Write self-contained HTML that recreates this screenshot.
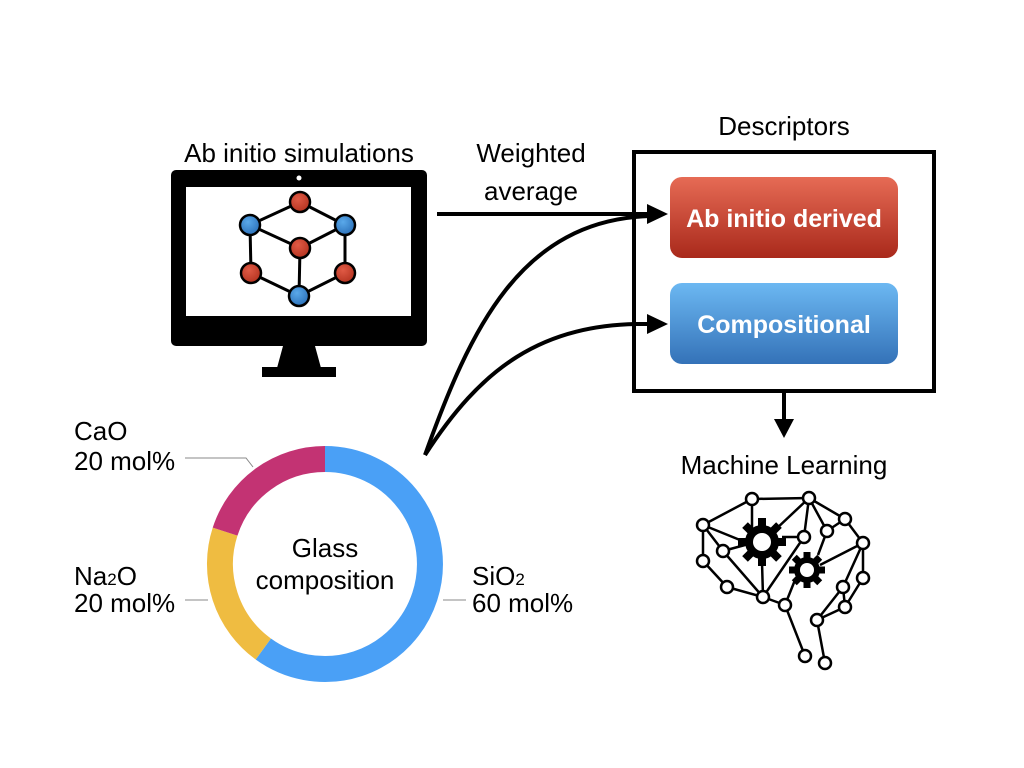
<!DOCTYPE html>
<html><head><meta charset="utf-8"><style>
body{margin:0;width:1024px;height:768px;background:#fff;overflow:hidden}
svg{display:block}
text{font-family:"Liberation Sans",sans-serif;fill:#000}
</style></head><body>
<svg width="1024" height="768" viewBox="0 0 1024 768">
<defs>
<linearGradient id="gr" x1="0" y1="0" x2="0" y2="1"><stop offset="0" stop-color="#e66b55"/><stop offset="1" stop-color="#a9291b"/></linearGradient>
<linearGradient id="gb" x1="0" y1="0" x2="0" y2="1"><stop offset="0" stop-color="#6cb8f2"/><stop offset="1" stop-color="#3472b8"/></linearGradient>
<radialGradient id="rn" cx="0.4" cy="0.35" r="0.7"><stop offset="0" stop-color="#e05a45"/><stop offset="1" stop-color="#b3321f"/></radialGradient>
<radialGradient id="bn" cx="0.4" cy="0.35" r="0.7"><stop offset="0" stop-color="#5aa9ea"/><stop offset="1" stop-color="#2a6fb8"/></radialGradient>
</defs>
<text x="299" y="162" font-size="26" text-anchor="middle">Ab initio simulations</text>
<!-- monitor -->
<rect x="171" y="170" width="256" height="176" rx="5" fill="#000"/>
<rect x="186" y="187" width="225" height="129" fill="#fff"/>
<circle cx="299" cy="178" r="2.5" fill="#fff"/>
<polygon points="283,346 315,346 321,368 277,368" fill="#000"/>
<rect x="262" y="367" width="74" height="10" fill="#000"/>
<g stroke="#000" stroke-width="3">
<line x1="300" y1="202" x2="250" y2="225"/><line x1="300" y1="202" x2="345" y2="225"/>
<line x1="250" y1="225" x2="300" y2="248"/><line x1="345" y1="225" x2="300" y2="248"/>
<line x1="250" y1="225" x2="251" y2="273"/><line x1="345" y1="225" x2="345" y2="273"/>
<line x1="300" y1="248" x2="299" y2="296"/><line x1="251" y1="273" x2="299" y2="296"/><line x1="345" y1="273" x2="299" y2="296"/>
</g>
<g stroke="#000" stroke-width="2.5">
<circle cx="300" cy="202" r="10" fill="url(#rn)"/><circle cx="250" cy="225" r="10" fill="url(#bn)"/>
<circle cx="345" cy="225" r="10" fill="url(#bn)"/><circle cx="300" cy="248" r="10" fill="url(#rn)"/>
<circle cx="251" cy="273" r="10" fill="url(#rn)"/><circle cx="345" cy="273" r="10" fill="url(#rn)"/>
<circle cx="299" cy="296" r="10" fill="url(#bn)"/>
</g>
<!-- weighted avg -->
<text x="531" y="162" font-size="26" text-anchor="middle">Weighted</text>
<text x="531" y="200" font-size="26" text-anchor="middle">average</text>
<line x1="437" y1="214" x2="650" y2="214" stroke="#000" stroke-width="4"/>
<path d="M425,455 C470,330 520,220 650,216" fill="none" stroke="#000" stroke-width="4"/>
<path d="M425,455 C480,370 540,322 650,324" fill="none" stroke="#000" stroke-width="4"/>
<polygon points="647,204 668,214 647,224" fill="#000"/>
<polygon points="647,314 668,324 647,334" fill="#000"/>
<!-- descriptors -->
<text x="784" y="135" font-size="26" text-anchor="middle">Descriptors</text>
<rect x="634" y="152" width="300" height="239" fill="none" stroke="#000" stroke-width="4"/>
<rect x="670" y="177" width="228" height="81" rx="12" fill="url(#gr)"/>
<text x="784" y="227" font-size="25" font-weight="bold" text-anchor="middle" style="fill:#fff">Ab initio derived</text>
<rect x="670" y="283" width="228" height="81" rx="12" fill="url(#gb)"/>
<text x="784" y="333" font-size="25" font-weight="bold" text-anchor="middle" style="fill:#fff">Compositional</text>
<line x1="784" y1="391" x2="784" y2="422" stroke="#000" stroke-width="4"/>
<polygon points="774,419 794,419 784,438" fill="#000"/>
<text x="784" y="474" font-size="26" text-anchor="middle">Machine Learning</text>
<!-- brain -->
<g stroke="#000" stroke-width="2.5" fill="none">
<path d="M752,499 L809,498 M752,499 L703,525 M752,499 L752,530 M809,498 L804,537 M809,498 L845,519 M809,498 L827,531 M809,498 L775,530 M703,525 L703,561 M703,525 L740,540 M703,525 L723,551 M723,551 L763,597 M723,551 L745,545 M703,561 L727,587 M727,587 L763,597 M763,597 L762,562 M763,597 L804,537 M763,597 L785,605 M785,605 L795,580 M785,605 L805,656 M804,537 L782,537 M845,519 L863,543 M827,531 L818,555 M863,543 L820,565 M863,543 L863,578 M863,543 L843,587 M863,578 L845,607 M843,587 L845,607 M843,587 L817,620 M845,607 L817,620 M817,620 L825,663 M845,519 L827,531"/>
</g>
<g fill="#000">
<circle cx="762" cy="542" r="17"/>
<g transform="translate(762,542)">
<rect x="-4" y="-24" width="8" height="48"/><rect x="-24" y="-4" width="48" height="8"/>
<rect x="-4" y="-24" width="8" height="48" transform="rotate(45)"/><rect x="-4" y="-24" width="8" height="48" transform="rotate(-45)"/>
</g>
<circle cx="807" cy="570" r="13"/>
<g transform="translate(807,570)">
<rect x="-3.5" y="-18" width="7" height="36"/><rect x="-18" y="-3.5" width="36" height="7"/>
<rect x="-3.5" y="-18" width="7" height="36" transform="rotate(45)"/><rect x="-3.5" y="-18" width="7" height="36" transform="rotate(-45)"/>
</g>
</g>
<circle cx="762" cy="542" r="9" fill="#fff"/>
<circle cx="807" cy="570" r="7" fill="#fff"/>
<g stroke="#000" stroke-width="2.5" fill="#fff">
<circle cx="752" cy="499" r="6"/><circle cx="809" cy="498" r="6"/><circle cx="703" cy="525" r="6"/>
<circle cx="845" cy="519" r="6"/><circle cx="827" cy="531" r="6"/><circle cx="804" cy="537" r="6"/>
<circle cx="863" cy="543" r="6"/><circle cx="723" cy="551" r="6"/><circle cx="703" cy="561" r="6"/>
<circle cx="863" cy="578" r="6"/><circle cx="727" cy="587" r="6"/><circle cx="843" cy="587" r="6"/>
<circle cx="763" cy="597" r="6"/><circle cx="785" cy="605" r="6"/><circle cx="845" cy="607" r="6"/>
<circle cx="817" cy="620" r="6"/><circle cx="805" cy="656" r="6"/><circle cx="825" cy="663" r="6"/>
</g>
<!-- donut -->
<g fill="none" stroke-width="26">
<path d="M325,459 A105,105 0 1 1 263.3,649" stroke="#4aa0f6"/>
<path d="M263.3,649 A105,105 0 0 1 225.1,531.6" stroke="#efbc41"/>
<path d="M225.1,531.6 A105,105 0 0 1 325,459" stroke="#c33373"/>
</g>
<text x="325" y="557" font-size="26" text-anchor="middle">Glass</text>
<text x="325" y="589" font-size="26" text-anchor="middle">composition</text>
<g stroke="#888" stroke-width="1" fill="none">
<path d="M185,458 L246,458 L253,467"/><path d="M185,600 L208,600"/><path d="M443,600 L466,600"/>
</g>
<text x="74" y="440" font-size="26">CaO</text>
<text x="74" y="470" font-size="26">20 mol%</text>
<text x="74" y="585" font-size="26">Na<tspan font-size="17">2</tspan>O</text>
<text x="74" y="612" font-size="26">20 mol%</text>
<text x="472" y="585" font-size="26">SiO<tspan font-size="17">2</tspan></text>
<text x="472" y="612" font-size="26">60 mol%</text>
</svg>
</body></html>
